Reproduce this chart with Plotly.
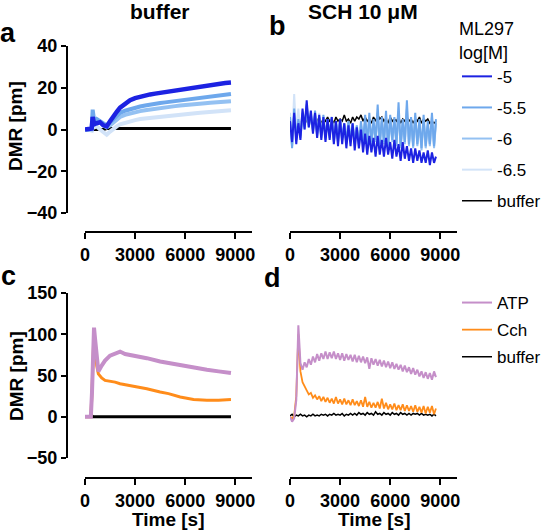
import plotly.graph_objects as go

W, H = 555, 530
FONT = "Liberation Sans, Arial, sans-serif"

# ---------------- data ----------------
# Panel a (buffer) : ML297 concentration-response, DMR [pm]
t_a = [0, 200, 400, 460, 550, 700, 900, 1100, 1300, 1500, 1700, 1900, 2100, 2400,
       2700, 3000, 3300, 3600, 3900, 4200, 4500, 4800, 5100, 5400, 5700, 6000,
       6300, 6600, 6900, 7200, 7500, 7800, 8100, 8400, 8740]
a_m5 = [0, 0, 0.5, 6, 2.5, 3, 3.5, 2, 1.5, 4, 6.5, 8.5, 10.5, 12.5, 14, 15, 15.7,
        16.3, 16.8, 17.2, 17.6, 18, 18.4, 18.8, 19.2, 19.6, 20, 20.3, 20.7, 21,
        21.3, 21.7, 22, 22.3, 22.5]
a_m55 = [0, 0, 0.5, 9.5, 4, 5, 4, 3, 2, 3.5, 5, 6.5, 8, 9, 9.8, 10.5, 11, 11.5,
         12, 12.3, 12.7, 13, 13.3, 13.6, 14, 14.3, 14.6, 15, 15.3, 15.6, 15.9,
         16.2, 16.5, 16.8, 17]
a_m6 = [0, 0, 0, 5, 3, 4, 3.5, 2, 1, 2, 3.5, 5, 6, 7, 7.7, 8.3, 8.8, 9.2, 9.6, 10,
        10.3, 10.6, 10.9, 11.2, 11.5, 11.8, 12, 12.2, 12.4, 12.6, 12.8, 13, 13.2,
        13.4, 13.5]
a_m65 = [0, 0, -0.5, 3, 1, 1.5, 0, -1.5, -2.5, -1, 0.5, 1.5, 2.5, 3.3, 4, 4.5, 5,
         5.3, 5.6, 5.9, 6.2, 6.4, 6.7, 7, 7.2, 7.4, 7.6, 7.8, 8, 8.2, 8.4, 8.6,
         8.8, 9, 9.2]
a_buf = [0, 0, 0, 0, 0, 0, 0, 0, 0.5, 0.5, 0.5, 0.5, 0.5, 0.5, 0.5, 0.5, 0.5, 0.5,
         0.5, 0.5, 0.5, 0.5, 0.5, 0.5, 0.5, 0.5, 0.5, 0.5, 0.5, 0.5, 0.5, 0.5,
         0.5, 0.5, 0.5]

# Panel b (SCH 10 uM) : sampled every 125 s
t_b = list(range(0, 8626, 125)) + [8740]
b_m5 = [4, -6, 8, -7, 3, -5, 10, 0, 14, 1, 9, -2, 8, -4, 7, -5, 6, -6, 5, -5,
        6, -7, 4, -8, 5, -7, 3, -9, 2, -8, 3, -10, 1, -9, 0, -11, -2, -12, -3, -11,
        -4, -13, -3, -12, -5, -13, -4, -12, -6, -14, -5, -13, -7, -15, -6, -14, -8, -15, -9, -16,
        -9, -15, -10, -16, -11, -16, -10, -17, -11, -16, -13]
b_m55 = [6, -9, 10, -4, 5, -3, 8, 1, 12, 2, 7, 0, 9, -2, 6, -3, 7, -4, 5, -3,
         6, -5, 4, -5, 5, -4, 3, -6, 4, -5, 3, -6, 2, -7, 4, -6, 7, -7, 8, -6,
         5, -5, 12, -7, 6, -6, 9, -8, 7, -5, 6, -7, 13, -8, 5, -6, 14, -7, 6, -8,
         8, -7, 5, -9, 7, -8, 4, -7, 8, -8, 5]
b_m6 = [3, -8, 7, -5, 4, -4, 6, 0, 9, 1, 6, -1, 7, -3, 5, -4, 5, -5, 4, -4,
        5, -6, 3, -6, 4, -5, 2, -7, 3, -6, 2, -7, 1, -8, 2, -7, 4, -8, 5, -7,
        3, -6, 8, -8, 4, -7, 6, -9, 5, -6, 4, -8, 9, -9, 3, -7, 10, -8, 4, -9,
        6, -8, 3, -10, 5, -9, 2, -8, 6, -9, 3]
b_m65 = [8, -5, 17, -3, 10, -2, 9, 2, 11, 3, 8, 1, 7, -1, 8, -2, 6, -3, 5, -2,
         6, -3, 4, -4, 5, -3, 3, -5, 4, -4, 3, -5, 2, -6, 3, -5, 4, -6, 5, -5,
         3, -5, 6, -6, 4, -5, 5, -7, 4, -5, 3, -6, 6, -7, 3, -6, 7, -6, 3, -7,
         5, -6, 3, -8, 4, -7, 2, -7, 5, -7, 3]
b_buf = [3, 2, 4, 3, 5, 3, 4, 2, 5, 3, 4, 3, 5, 4, 6, 3, 5, 4, 6, 4,
         5, 3, 6, 4, 5, 4, 7, 4, 5, 3, 6, 4, 6, 5, 7, 4, 6, 4, 5, 3,
         6, 4, 7, 5, 6, 4, 5, 3, 6, 4, 5, 4, 6, 3, 5, 4, 6, 4, 5, 3,
         5, 4, 6, 3, 5, 4, 5, 3, 4, 3, 4]

# Panel c (buffer) : ATP / Cch
t_c = [0, 200, 350, 420, 480, 540, 600, 700, 800, 1000, 1200, 1500, 1800, 2100,
       2400, 3000, 3700, 4500, 5000, 5700, 6500, 7300, 8000, 8740]
c_atp = [0, 0, 0, 30, 80, 108, 95, 70, 55, 62, 68, 74, 76, 79, 76, 74, 71, 67,
         65, 63, 60, 57, 55, 53]
c_cch = [0, 0, 0, 30, 80, 105, 88, 62, 52, 47, 44, 43, 42, 40, 39, 37, 34, 30,
         28, 24, 21, 20, 20, 21]
c_buf = [None, None, 0, 1, 0, 0, 0, 0, 0, 0, 0, 0, 0, 0, 0, 0, 0, 0, 0, 0, 0, 0,
         0, 0]

# Panel d (SCH 10 uM) : sampled every 125 s
t_d = list(range(0, 8626, 125)) + [8740]
d_atp = [0, -6, -2, 20, 111, 65, 57, 66, 60, 70, 63, 73, 66, 76, 68, 77, 70, 79, 70, 78,
         71, 79, 70, 77, 69, 77, 68, 76, 69, 75, 67, 75, 66, 74, 66, 73, 65, 72, 58, 71,
         63, 70, 62, 69, 61, 68, 60, 67, 59, 66, 58, 64, 57, 63, 55, 62, 54, 60, 52, 59,
         51, 57, 49, 55, 47, 54, 46, 53, 45, 55, 48]
d_cch = [0, -2, 1, 25, 100, 55, 42, 36, 32, 27, 29, 23, 26, 21, 25, 19, 24, 18, 23, 17,
         22, 16, 24, 16, 21, 15, 22, 15, 20, 14, 21, 14, 19, 13, 20, 12, 24, 12, 18, 11,
         17, 11, 18, 10, 22, 10, 17, 9, 15, 9, 16, 8, 14, 8, 15, 7, 14, 7, 13, 6,
         14, 6, 12, 5, 13, 4, 12, 5, 13, 3, 10]
d_buf = [1, 3, 0, 2, 1, 3, 1, 2, 0, 2, 1, 3, 1, 2, 1, 3, 2, 3, 1, 3,
         2, 4, 2, 3, 2, 4, 1, 3, 2, 4, 2, 4, 2, 5, 3, 4, 2, 5, 3, 4,
         2, 6, 3, 4, 2, 5, 3, 4, 2, 5, 3, 4, 2, 5, 3, 4, 2, 4, 2, 4,
         3, 4, 2, 4, 2, 3, 2, 3, 1, 3, 1]

x_ticks = [0, 3000, 6000, 9000]
ya_ticks = [-40, -20, 0, 20, 40]
yc_ticks = [-50, 0, 50, 100, 150]

C5, C55, C6, C65 = "#1c22e2", "#6ea8ec", "#94c1f2", "#d2e3f8"
CATP, CCCH, CBUF = "#c58fc9", "#ff8c1a", "#000000"

# ---------------- figure ----------------
fig = go.Figure()

def add(x, y, color, width, xa, ya, name=None, legend=None, rank=None):
    fig.add_trace(go.Scatter(
        x=x, y=y, mode="lines", line=dict(color=color, width=width),
        xaxis=xa, yaxis=ya, name=name, showlegend=legend is not None,
        legend=legend if legend else "legend", legendgroup=name if legend else None,
        legendrank=rank if rank else 1000, hoverinfo="skip"))

# panel a
add(t_a, a_buf, CBUF, 3, "x", "y")
add(t_a, a_m65, C65, 4, "x", "y")
add(t_a, a_m6, C6, 4, "x", "y")
add(t_a, a_m55, C55, 4, "x", "y")
add(t_a, a_m5, C5, 4.5, "x", "y")
# panel b (carries legend 1)
add(t_b, b_buf, CBUF, 1.5, "x2", "y2", "buffer", "legend", 5)
add(t_b, b_m65, C65, 2, "x2", "y2", "-6.5", "legend", 4)
add(t_b, b_m6, C6, 2, "x2", "y2", "-6", "legend", 3)
add(t_b, b_m55, C55, 2, "x2", "y2", "-5.5", "legend", 2)
add(t_b, b_m5, C5, 2, "x2", "y2", "-5", "legend", 1)
# panel c
add(t_c, c_buf, CBUF, 3, "x3", "y3")
add(t_c, c_cch, CCCH, 3, "x3", "y3")
add(t_c, c_atp, CATP, 4, "x3", "y3")
# panel d (carries legend 2)
add(t_d, d_buf, CBUF, 1.5, "x4", "y4", "buffer ", "legend2", 3)
add(t_d, d_cch, CCCH, 1.8, "x4", "y4", "Cch", "legend2", 2)
add(t_d, d_atp, CATP, 2, "x4", "y4", "ATP", "legend2", 1)

def px_x(p):
    return p / W

def px_y(p):
    return 1 - p / H

tickfont = dict(family=FONT, size=18, color="black", weight="bold")
common_x = dict(range=[0, 10000], tickvals=x_ticks, showline=True, linewidth=2,
                linecolor="black", ticks="outside", ticklen=6, tickwidth=2,
                tickcolor="black", showgrid=False, zeroline=False, tickfont=tickfont,
                anchor="free", fixedrange=True)
common_y = dict(showline=True, linewidth=2, linecolor="black", ticks="outside",
                ticklen=5, tickwidth=2, tickcolor="black", showgrid=False,
                zeroline=False, tickfont=tickfont, anchor="free", fixedrange=True)

dom_xl = [px_x(85), px_x(252)]
dom_xr = [px_x(290), px_x(457)]
dom_top = [px_y(213), px_y(46)]
dom_bot = [px_y(458), px_y(293)]

fig.update_layout(
    width=W, height=H, margin=dict(l=0, r=0, t=0, b=0, autoexpand=False),
    paper_bgcolor="white", plot_bgcolor="white",
    font=dict(family=FONT, color="black"),
    xaxis=dict(domain=dom_xl, position=px_y(232), **common_x),
    xaxis2=dict(domain=dom_xr, position=px_y(232), **common_x),
    xaxis3=dict(domain=dom_xl, position=px_y(478), **common_x),
    xaxis4=dict(domain=dom_xr, position=px_y(478), **common_x),
    yaxis=dict(domain=dom_top, position=px_x(67), range=[-40, 40],
               tickvals=ya_ticks, **common_y),
    yaxis2=dict(domain=dom_top, range=[-40, 40], visible=False, anchor="free",
                position=px_x(290)),
    yaxis3=dict(domain=dom_bot, position=px_x(67), range=[-50, 150],
                tickvals=yc_ticks, **common_y),
    yaxis4=dict(domain=dom_bot, range=[-50, 150], visible=False, anchor="free",
                position=px_x(290)),
    legend=dict(x=px_x(457), y=px_y(12), xanchor="left", yanchor="top",
                title=dict(text="ML297<br>log[M]", font=dict(size=18, family=FONT)),
                font=dict(size=17, family=FONT), tracegroupgap=6,
                bgcolor="rgba(0,0,0,0)", itemclick=False),
    legend2=dict(x=px_x(457), y=px_y(285), xanchor="left", yanchor="top",
                 font=dict(size=17, family=FONT), tracegroupgap=2,
                 bgcolor="rgba(0,0,0,0)", itemclick=False),
)

def ann(text, x, y, size, angle=0, xanchor="center"):
    fig.add_annotation(text=text, x=px_x(x), y=px_y(y), xref="paper", yref="paper",
                       showarrow=False, textangle=angle, xanchor=xanchor,
                       yanchor="middle",
                       font=dict(family=FONT, size=size, color="black", weight="bold"))

ann("buffer", 160, 12, 21)
ann("SCH 10 μM", 363, 12, 21)
ann("a", 8, 33, 27)
ann("b", 277, 26, 27)
ann("c", 8, 276, 27)
ann("d", 272, 278, 27)
ann("DMR [pm]", 16, 126, 19, angle=-90)
ann("DMR [pm]", 16, 376, 19, angle=-90)
ann("Time [s]", 168, 519, 19)
ann("Time [s]", 374, 519, 19)

fig.write_html("out.html", config={"displayModeBar": False, "staticPlot": True},
               post_script="document.body.style.margin='0px';")
